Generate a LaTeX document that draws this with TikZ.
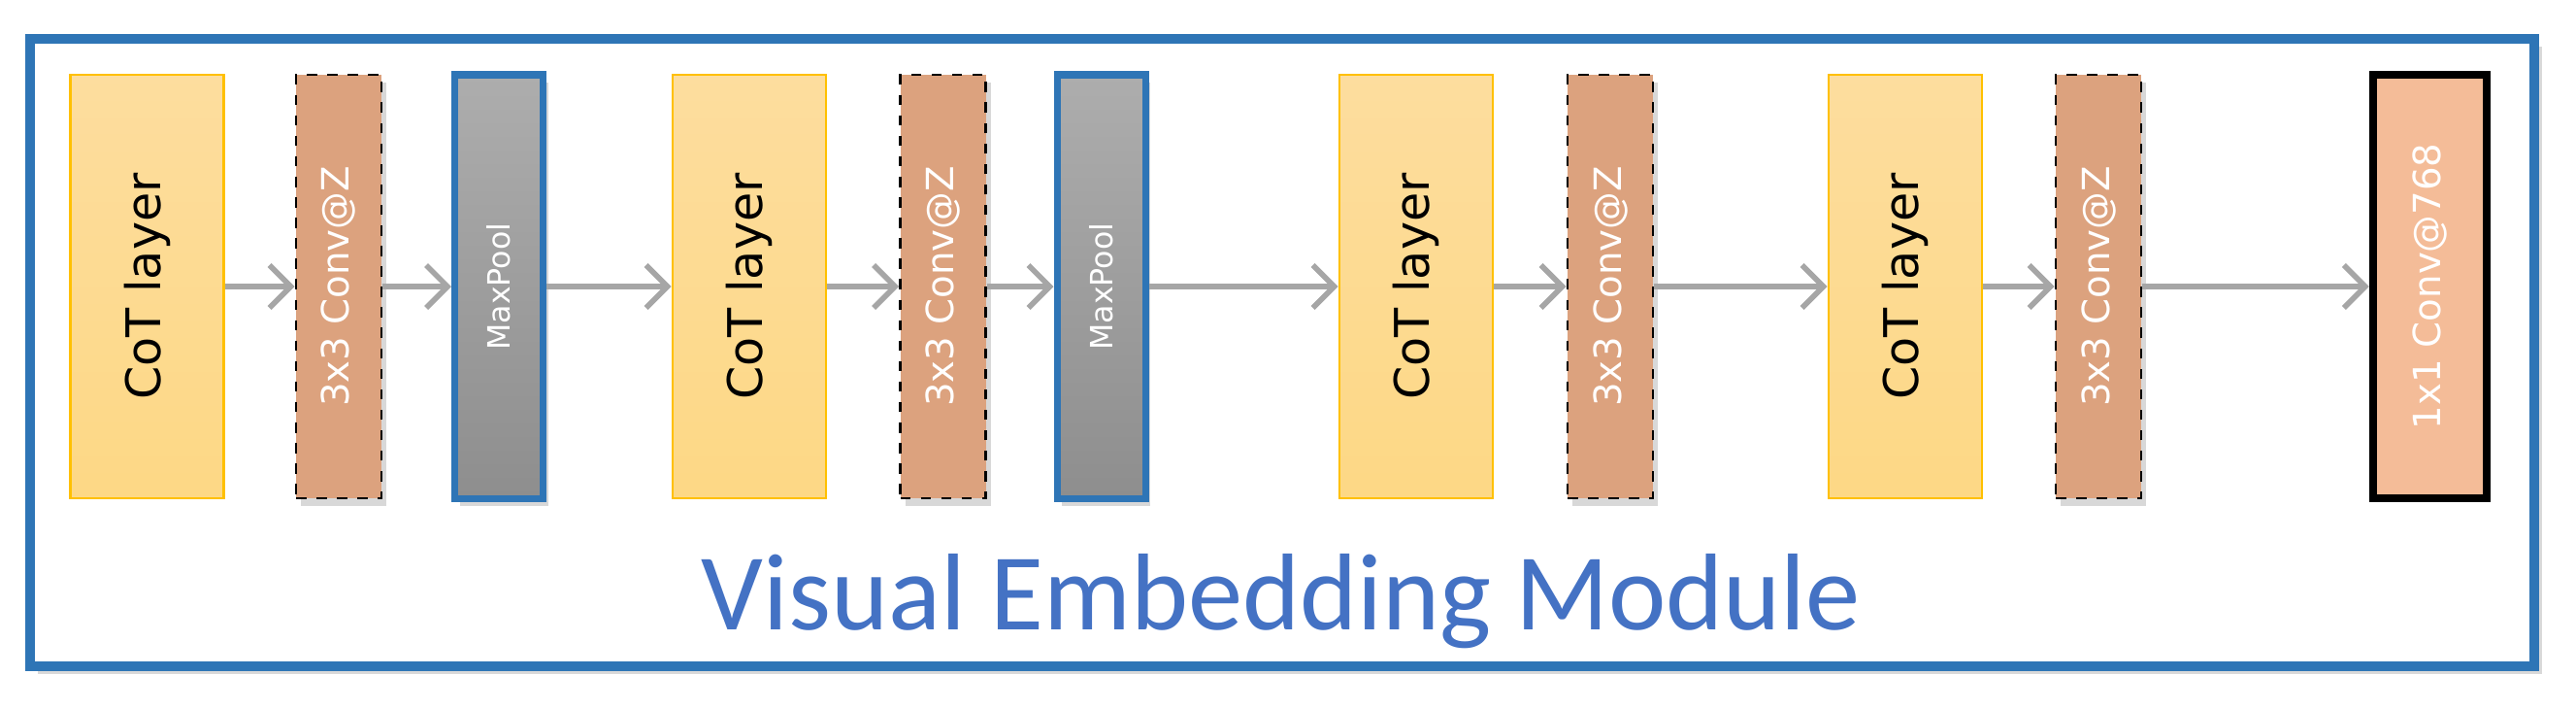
\documentclass[tikz,border=0pt]{standalone}
\usepackage{fontspec}
\setmainfont{DejaVu Sans}
\newfontfamily\titlefont{Carlito}
\usetikzlibrary{shadows,arrows.meta}
\definecolor{cotfill}{HTML}{FDD885}
\definecolor{cottop}{HTML}{FDDD9E}
\definecolor{cotedge}{HTML}{FFC000}
\definecolor{convfill}{HTML}{DCA27E}
\definecolor{poolbot}{HTML}{8E8E8E}
\definecolor{pooltop}{HTML}{ADADAD}
\definecolor{frameblue}{HTML}{2E75B6}
\definecolor{titleblue}{HTML}{4472C4}
\definecolor{lastfill}{HTML}{F4BC98}
\definecolor{arrowgray}{HTML}{A6A6A6}
\tikzset{
  blk/.style={minimum height=4.36cm,inner sep=0pt,anchor=center},
  cot/.style={blk,minimum width=1.58cm,draw=cotedge,line width=0.8pt,
    top color=cottop,bottom color=cotfill,font=\fontsize{14}{14}\selectfont},
  conv/.style={blk,minimum width=0.88cm,draw=black,dashed,line width=0.8pt,
    fill=convfill,text=white,font=\fontsize{11}{11}\selectfont,
    drop shadow={shadow xshift=0.5mm,shadow yshift=-0.8mm,opacity=0.3}},
  pool/.style={blk,minimum width=0.91cm,draw=frameblue,line width=2pt,
    top color=pooltop,bottom color=poolbot,text=white,font=\fontsize{9}{9}\selectfont,
    drop shadow={shadow xshift=0.5mm,shadow yshift=-0.8mm,opacity=0.3}},
  last/.style={blk,minimum width=1.17cm,draw=black,line width=2.4pt,
    fill=lastfill,text=white,font=\fontsize{11}{11}\selectfont},
  flow/.style={draw=arrowgray,line width=1.6pt,-{Straight Barb[length=2.2mm,width=4.4mm,line width=1.6pt]}}
}
\begin{document}
\begin{tikzpicture}
  \useasboundingbox (0,0) rectangle (26.54,7.29);
  % outer frame
  \draw[frameblue,line width=2.6pt,drop shadow={shadow xshift=0.8mm,shadow yshift=-0.8mm,opacity=0.3},fill=white]
    (0.31,0.43) rectangle (26.11,6.89);
  % blocks
  \node[cot]  (cot1)  at (1.515,4.34) {\rotatebox{90}{CoT layer}};
  \node[conv] (conv1) at (3.49,4.34)  {\rotatebox{90}{3x3 Conv@Z}};
  \node[pool] (pool1) at (5.14,4.34)  {\rotatebox{90}{MaxPool}};
  \node[cot]  (cot2)  at (7.72,4.34)  {\rotatebox{90}{CoT layer}};
  \node[conv] (conv2) at (9.715,4.34) {\rotatebox{90}{3x3 Conv@Z}};
  \node[pool] (pool2) at (11.345,4.34){\rotatebox{90}{MaxPool}};
  \node[cot]  (cot3)  at (14.59,4.34) {\rotatebox{90}{CoT layer}};
  \node[conv] (conv3) at (16.59,4.34) {\rotatebox{90}{3x3 Conv@Z}};
  \node[cot]  (cot4)  at (19.63,4.34) {\rotatebox{90}{CoT layer}};
  \node[conv] (conv4) at (21.62,4.34) {\rotatebox{90}{3x3 Conv@Z}};
  \node[last] (out)   at (25.035,4.34){\rotatebox{90}{1x1 Conv@768}};
  % connectors
  \foreach \a/\b in {cot1/conv1,conv1/pool1,pool1/cot2,cot2/conv2,conv2/pool2,
                     pool2/cot3,cot3/conv3,conv3/cot4,cot4/conv4,conv4/out}
    \draw[flow] (\a.east) -- (\b.west);
  \node[text=titleblue,font=\titlefont\fontsize{32}{32}\selectfont] (title) at (13.2,1.1) {Visual Embedding Module};
\end{tikzpicture}
\end{document}
